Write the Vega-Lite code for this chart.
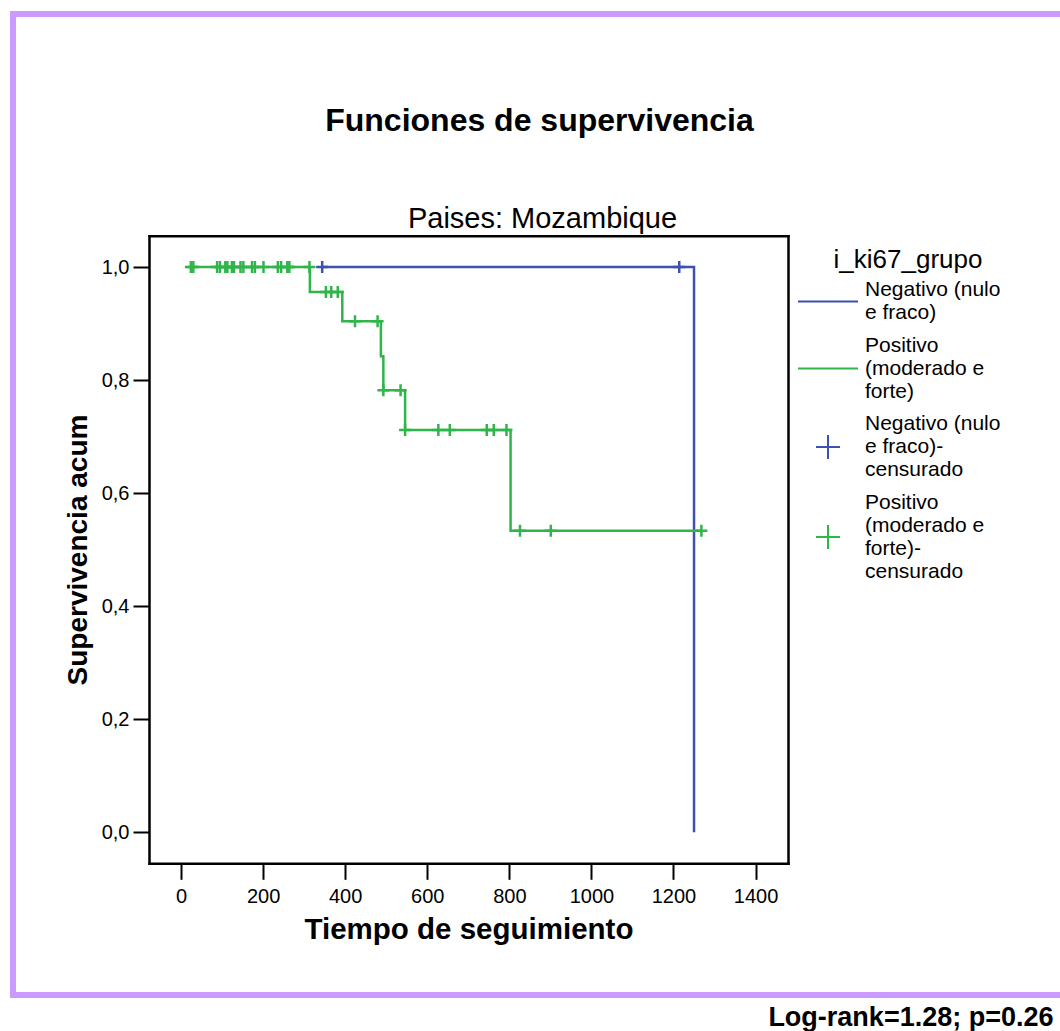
{
  "$schema": "https://vega.github.io/schema/vega-lite/v6.json",
  "autosize": {"type": "none"},
  "width": 1047,
  "height": 981,
  "padding": {"left": 13, "top": 14, "right": 0, "bottom": 36},
  "background": "white",
  "title": {
    "text": "Funciones de supervivencia",
    "anchor": "middle",
    "frame": "group",
    "font": "Liberation Sans",
    "fontSize": 32,
    "fontWeight": "bold",
    "color": "black",
    "baseline": "alphabetic",
    "offset": -149,
    "dx": 3
  },
  "datasets": {
    "curvas": [
      {"grupo": "Negativo (nulo e fraco)", "tiempo": 344, "supervivencia": 1.0},
      {"grupo": "Negativo (nulo e fraco)", "tiempo": 1250, "supervivencia": 0.0},
      {"grupo": "Positivo (moderado e forte)", "tiempo": 24, "supervivencia": 1.0},
      {"grupo": "Positivo (moderado e forte)", "tiempo": 314, "supervivencia": 0.956},
      {"grupo": "Positivo (moderado e forte)", "tiempo": 393, "supervivencia": 0.904},
      {"grupo": "Positivo (moderado e forte)", "tiempo": 487, "supervivencia": 0.842},
      {"grupo": "Positivo (moderado e forte)", "tiempo": 493, "supervivencia": 0.782},
      {"grupo": "Positivo (moderado e forte)", "tiempo": 546, "supervivencia": 0.7115},
      {"grupo": "Positivo (moderado e forte)", "tiempo": 803, "supervivencia": 0.5333},
      {"grupo": "Positivo (moderado e forte)", "tiempo": 1268, "supervivencia": 0.5333}
    ],
    "censurados": [
      {"grupo": "Negativo (nulo e fraco)-censurado", "tiempo": 344, "supervivencia": 1.0},
      {"grupo": "Negativo (nulo e fraco)-censurado", "tiempo": 1214, "supervivencia": 1.0},
      {"grupo": "Positivo (moderado e forte)-censurado", "tiempo": 24, "supervivencia": 1.0},
      {"grupo": "Positivo (moderado e forte)-censurado", "tiempo": 30, "supervivencia": 1.0},
      {"grupo": "Positivo (moderado e forte)-censurado", "tiempo": 88, "supervivencia": 1.0},
      {"grupo": "Positivo (moderado e forte)-censurado", "tiempo": 95, "supervivencia": 1.0},
      {"grupo": "Positivo (moderado e forte)-censurado", "tiempo": 108, "supervivencia": 1.0},
      {"grupo": "Positivo (moderado e forte)-censurado", "tiempo": 113, "supervivencia": 1.0},
      {"grupo": "Positivo (moderado e forte)-censurado", "tiempo": 124, "supervivencia": 1.0},
      {"grupo": "Positivo (moderado e forte)-censurado", "tiempo": 129, "supervivencia": 1.0},
      {"grupo": "Positivo (moderado e forte)-censurado", "tiempo": 145, "supervivencia": 1.0},
      {"grupo": "Positivo (moderado e forte)-censurado", "tiempo": 152, "supervivencia": 1.0},
      {"grupo": "Positivo (moderado e forte)-censurado", "tiempo": 173, "supervivencia": 1.0},
      {"grupo": "Positivo (moderado e forte)-censurado", "tiempo": 180, "supervivencia": 1.0},
      {"grupo": "Positivo (moderado e forte)-censurado", "tiempo": 201, "supervivencia": 1.0},
      {"grupo": "Positivo (moderado e forte)-censurado", "tiempo": 236, "supervivencia": 1.0},
      {"grupo": "Positivo (moderado e forte)-censurado", "tiempo": 244, "supervivencia": 1.0},
      {"grupo": "Positivo (moderado e forte)-censurado", "tiempo": 259, "supervivencia": 1.0},
      {"grupo": "Positivo (moderado e forte)-censurado", "tiempo": 264, "supervivencia": 1.0},
      {"grupo": "Positivo (moderado e forte)-censurado", "tiempo": 313, "supervivencia": 1.0},
      {"grupo": "Positivo (moderado e forte)-censurado", "tiempo": 353, "supervivencia": 0.956},
      {"grupo": "Positivo (moderado e forte)-censurado", "tiempo": 366, "supervivencia": 0.956},
      {"grupo": "Positivo (moderado e forte)-censurado", "tiempo": 382, "supervivencia": 0.956},
      {"grupo": "Positivo (moderado e forte)-censurado", "tiempo": 424, "supervivencia": 0.904},
      {"grupo": "Positivo (moderado e forte)-censurado", "tiempo": 479, "supervivencia": 0.904},
      {"grupo": "Positivo (moderado e forte)-censurado", "tiempo": 493, "supervivencia": 0.782},
      {"grupo": "Positivo (moderado e forte)-censurado", "tiempo": 535, "supervivencia": 0.782},
      {"grupo": "Positivo (moderado e forte)-censurado", "tiempo": 546, "supervivencia": 0.7115},
      {"grupo": "Positivo (moderado e forte)-censurado", "tiempo": 627, "supervivencia": 0.7115},
      {"grupo": "Positivo (moderado e forte)-censurado", "tiempo": 655, "supervivencia": 0.7115},
      {"grupo": "Positivo (moderado e forte)-censurado", "tiempo": 745, "supervivencia": 0.7115},
      {"grupo": "Positivo (moderado e forte)-censurado", "tiempo": 762, "supervivencia": 0.7115},
      {"grupo": "Positivo (moderado e forte)-censurado", "tiempo": 793, "supervivencia": 0.7115},
      {"grupo": "Positivo (moderado e forte)-censurado", "tiempo": 826, "supervivencia": 0.5333},
      {"grupo": "Positivo (moderado e forte)-censurado", "tiempo": 901, "supervivencia": 0.5333},
      {"grupo": "Positivo (moderado e forte)-censurado", "tiempo": 1268, "supervivencia": 0.5333}
    ],
    "leyenda": []
  },
  "layer": [
    {
      "data": {"name": "curvas"},
      "mark": {"type": "line", "interpolate": "step-after", "strokeWidth": 2.5},
      "encoding": {
        "x": {
          "field": "tiempo",
          "type": "quantitative",
          "scale": {"domain": [-78, 1479], "range": [136, 775], "nice": false, "zero": false},
          "axis": {
            "orient": "bottom",
            "offset": -131.7,
            "values": [0, 200, 400, 600, 800, 1000, 1200, 1400],
            "format": "d",
            "title": "Tiempo de seguimiento",
            "titleFontSize": 29.5,
            "titleFontWeight": "bold",
            "titlePadding": 9,
            "labelFontSize": 20,
            "labelPadding": 7,
            "labelFlush": false,
            "labelOverlap": false,
            "tickSize": 16
          }
        },
        "y": {
          "field": "supervivencia",
          "type": "quantitative",
          "scale": {"domain": [-0.0548, 1.0554], "range": [849.3, 221.7], "nice": false, "zero": false},
          "axis": {
            "orient": "left",
            "offset": -136,
            "values": [0, 0.2, 0.4, 0.6, 0.8, 1.0],
            "labelExpr": "replace(format(datum.value, '.1f'), '.', ',')",
            "title": "Supervivencia acum",
            "titleFontSize": 28,
            "titleFontWeight": "bold",
            "titlePadding": 9,
            "labelFontSize": 20,
            "labelPadding": 4,
            "labelOverlap": false,
            "tickSize": 16
          }
        },
        "stroke": {
          "field": "grupo",
          "type": "nominal",
          "scale": {
            "domain": ["Negativo (nulo e fraco)-censurado", "Positivo (moderado e forte)-censurado", "Negativo (nulo e fraco)", "Positivo (moderado e forte)"],
            "range": ["#3D51B0", "#2FB54A", "#3D51B0", "#2FB54A"]
          },
          "legend": null
        }
      }
    },
    {
      "data": {"name": "censurados"},
      "mark": {"type": "point", "filled": false, "shape": "M-1,0H1M0,-1V1", "size": 144, "strokeWidth": 2.5, "opacity": 1},
      "encoding": {
        "x": {
          "field": "tiempo",
          "type": "quantitative",
          "axis": {
            "orient": "top",
            "offset": -221.7,
            "labels": false,
            "ticks": false,
            "title": "Paises: Mozambique",
            "titleX": 529,
            "titleAlign": "center",
            "titleFontSize": 29,
            "titleFontWeight": "normal",
            "titlePadding": 2
          }
        },
        "y": {
          "field": "supervivencia",
          "type": "quantitative",
          "axis": {
            "orient": "right",
            "offset": -272,
            "labels": false,
            "ticks": false,
            "title": "Log-rank=1.28; p=0.26",
            "titleAngle": 0,
            "titleX": 265,
            "titleY": 1011,
            "titleAlign": "right",
            "titleBaseline": "alphabetic",
            "titleFontSize": 27,
            "titleFontWeight": "bold"
          }
        },
        "stroke": {"field": "grupo", "type": "nominal", "legend": null}
      }
    },
    {
      "data": {"name": "leyenda"},
      "mark": {"type": "point", "filled": false, "strokeWidth": 2, "opacity": 1},
      "encoding": {
        "color": {
          "field": "grupo",
          "type": "nominal",
          "scale": {
            "domain": ["Negativo (nulo e fraco)", "Positivo (moderado e forte)", "Negativo (nulo e fraco)-censurado", "Positivo (moderado e forte)-censurado"],
            "range": ["#3D51B0", "#2FB54A", "#3D51B0", "#2FB54A"]
          },
          "legend": {
            "title": "i_ki67_grupo",
            "orient": "none",
            "legendX": 802,
            "legendY": 233,
            "titleFontSize": 26,
            "titleFontWeight": "normal",
            "titleAnchor": "middle",
            "titlePadding": 4,
            "labelFontSize": 21,
            "labelLimit": 0,
            "labelOffset": 24,
            "symbolSize": 576,
            "symbolStrokeWidth": 2,
            "rowPadding": 9.5,
            "labelExpr": "datum.value == 'Negativo (nulo e fraco)' ? ['Negativo (nulo', 'e fraco)'] : datum.value == 'Positivo (moderado e forte)' ? ['Positivo', '(moderado e', 'forte)'] : datum.value == 'Negativo (nulo e fraco)-censurado' ? ['Negativo (nulo', 'e fraco)-', 'censurado'] : ['Positivo', '(moderado e', 'forte)-', 'censurado']"
          }
        },
        "shape": {
          "field": "grupo",
          "type": "nominal",
          "scale": {
            "domain": ["Negativo (nulo e fraco)", "Positivo (moderado e forte)", "Negativo (nulo e fraco)-censurado", "Positivo (moderado e forte)-censurado"],
            "range": ["M-2.5,0.958H2.5", "M-2.5,1.917H2.5", "M-1,1.917H1M0,0.917V2.917", "M-1,2.875H1M0,1.875V3.875"]
          },
          "legend": {
            "title": "i_ki67_grupo",
            "orient": "none",
            "legendX": 802,
            "legendY": 233,
            "titleFontSize": 26,
            "titleFontWeight": "normal",
            "titleAnchor": "middle",
            "titlePadding": 4,
            "labelFontSize": 21,
            "labelLimit": 0,
            "labelOffset": 24,
            "symbolSize": 576,
            "symbolStrokeWidth": 2,
            "rowPadding": 9.5,
            "labelExpr": "datum.value == 'Negativo (nulo e fraco)' ? ['Negativo (nulo', 'e fraco)'] : datum.value == 'Positivo (moderado e forte)' ? ['Positivo', '(moderado e', 'forte)'] : datum.value == 'Negativo (nulo e fraco)-censurado' ? ['Negativo (nulo', 'e fraco)-', 'censurado'] : ['Positivo', '(moderado e', 'forte)-', 'censurado']"
          }
        }
      }
    }
  ],
  "resolve": {"axis": {"x": "independent", "y": "independent"}},
  "config": {
    "font": "Liberation Sans",
    "view": {"stroke": "#CC99FF", "strokeWidth": 6, "strokeDash": [1047, 981, 2028, 1]},
    "axis": {
      "grid": false,
      "domainColor": "black",
      "domainWidth": 2.5,
      "domainCap": "square",
      "tickColor": "black",
      "tickWidth": 2,
      "labelColor": "black",
      "titleColor": "black",
      "labelFont": "Liberation Sans",
      "titleFont": "Liberation Sans"
    },
    "legend": {
      "labelColor": "black",
      "titleColor": "black",
      "labelFont": "Liberation Sans",
      "titleFont": "Liberation Sans",
      "padding": 0
    }
  }
}
